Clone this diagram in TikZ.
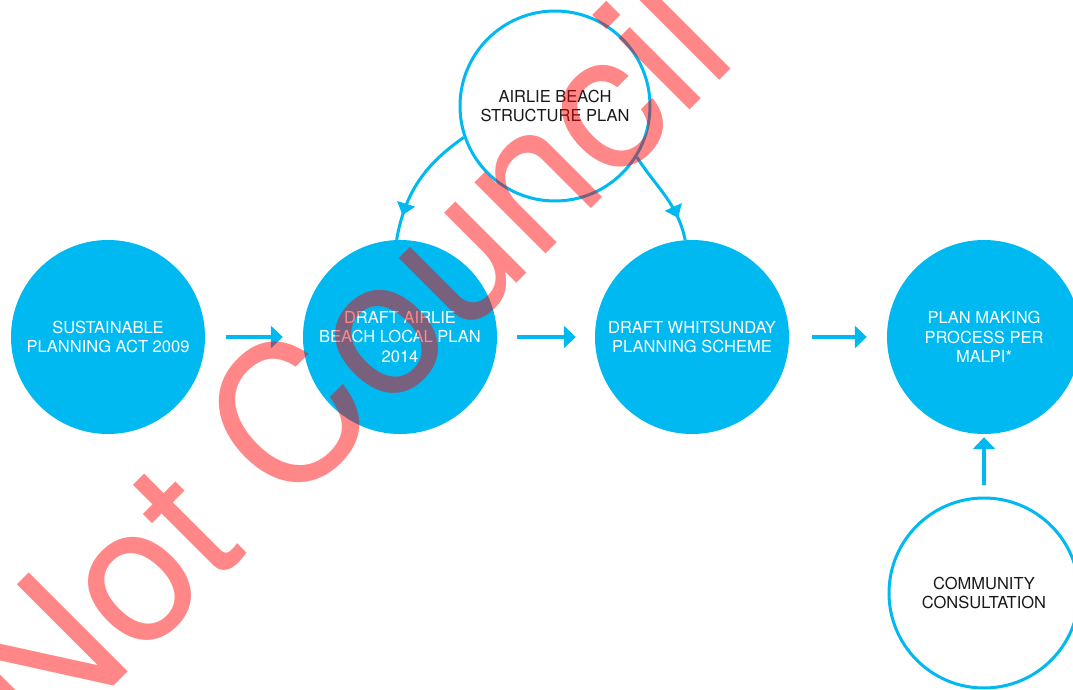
\documentclass[tikz,border=0pt]{standalone}
\usepackage{fontspec}
\setmainfont{TeX Gyre Heros}
\usetikzlibrary{arrows.meta,decorations.markings}
\definecolor{planblue}{RGB}{0,185,240}

\begin{document}
\begin{tikzpicture}[x=1pt,y=1pt,
    stage/.style={circle, fill=planblue, minimum size=194pt, inner sep=0pt,
        align=center, text=white, font=\fontsize{16.5}{19.5}\selectfont},
    input/.style={circle, draw=planblue, line width=3pt, fill=white,
        minimum size=190pt, inner sep=0pt, align=center, text=black!90,
        font=\fontsize{16.5}{19}\selectfont},
    flow/.style={draw=planblue, line width=3.5pt,
        -{Triangle[length=12pt,width=22pt,fill=planblue]}},
    feed/.style={draw=planblue, line width=3pt, postaction={decorate},
        decoration={markings, mark=at position #1 with
            {\arrow{Triangle[length=12pt,width=18pt,fill=planblue]}}}},
    stamp/.style={anchor=base west, rotate=45, inner sep=0pt, text=red,
        text opacity=0.47, font=\fontsize{192}{200}\selectfont}]
    \useasboundingbox (0,0) rectangle (1073,689);

    % the planning stages
    \node[stage] (sustain) at (108,352) {SUSTAINABLE\\PLANNING ACT 2009};
    \node[stage] (draftab) at (400,352) {DRAFT AIRLIE\\BEACH LOCAL PLAN\\2014};
    \node[stage] (draftws) at (692,352) {DRAFT WHITSUNDAY\\PLANNING SCHEME};
    \node[stage] (malpi) at (984,352) {PLAN MAKING\\PROCESS PER\\MALPI*};

    % the inputs
    \node[input] (struct) at (555,583) {AIRLIE BEACH\\STRUCTURE PLAN};
    \node[input] (consult) at (984,96) {COMMUNITY\\CONSULTATION};

    % draw the arrows
    \draw[flow, shorten <=21pt, shorten >=20pt] (sustain) -- (draftab);
    \draw[flow, shorten <=20pt, shorten >=19pt] (draftab) -- (draftws);
    \draw[flow, shorten <=23pt, shorten >=20pt] (draftws) -- (malpi);
    \draw[flow, shorten <=12pt, shorten >=3pt] (consult) -- (malpi);
    \draw[feed=0.8] (struct.199) to[out=215,in=80] (draftab.92);
    \draw[feed=0.76] (struct.328) to[out=303,in=102] (draftws.94);

    % the watermark on top
    \node[stamp] (mark) at (40,-71) {Not Council};
\end{tikzpicture}
\end{document}
